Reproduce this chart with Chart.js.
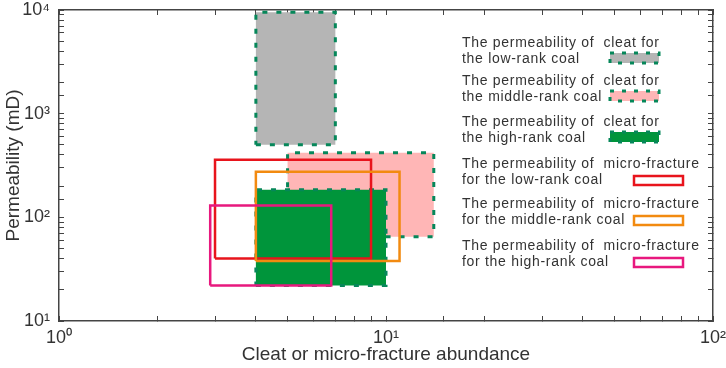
<!DOCTYPE html>
<html>
<head>
<meta charset="utf-8">
<script src="https://cdn.jsdelivr.net/npm/chart.js@4.4.0/dist/chart.umd.min.js"></script>
<style>
  html, body { margin: 0; padding: 0; background: #fff; }
  #wrap { width: 726px; height: 368px; }
</style>
</head>
<body>
<div id="wrap"><canvas id="grafico" width="726" height="368"></canvas></div>
<script>
/* Rangos de permeabilidad vs abundancia (escala log-log) */

// Datos
const seriesNames = [
  'Cleat, low-rank coal',
  'Cleat, middle-rank coal',
  'Cleat, high-rank coal',
  'Micro-fracture, low-rank coal',
  'Micro-fracture, middle-rank coal',
  'Micro-fracture, high-rank coal',
];
const xLow  = [4, 5, 4, 3, 4, 2.9];
const xHigh = [7, 14, 10, 9, 11, 6.8];
const yLow  = [500, 65, 22, 40, 38, 22];
const yHigh = [9500, 420, 185, 360, 275, 130];

const xTickValues = [1, 10, 100];
const xTickLabels = ['10⁰', '10¹', '10²'];
const yTickValues = [10, 100, 1000, 10000];
const yTickLabels = ['10¹', '10²', '10³', '10⁴'];

const legendLine1 = [
  'The permeability of  cleat for',
  'The permeability of  cleat for',
  'The permeability of  cleat for',
  'The permeability of  micro-fracture',
  'The permeability of  micro-fracture',
  'The permeability of  micro-fracture',
];
const legendLine2 = [
  'the low-rank coal',
  'the middle-rank coal',
  'the high-rank coal',
  'for the low-rank coal',
  'for the middle-rank coal',
  'for the high-rank coal',
];

// Estilos de cada rectángulo
const VERDE_BORDE = '#06875a';
const estilos = [
  { relleno: '#b5b5b5', borde: VERDE_BORDE, dash: [5, 9], ancho: 3 },
  { relleno: '#ffb6b6', borde: VERDE_BORDE, dash: [5, 9], ancho: 3 },
  { relleno: '#00953b', borde: VERDE_BORDE, dash: [5, 9], ancho: 3 },
  { relleno: null, borde: '#e8141c', dash: [], ancho: 2.5 },
  { relleno: null, borde: '#f28a10', dash: [], ancho: 2.5 },
  { relleno: null, borde: '#e8187e', dash: [], ancho: 2.5 },
];

const FUENTE = "'Liberation Sans', Arial, sans-serif";
const COLOR_EJE = '#444';
const COLOR_TEXTO = '#333';

function rectangulo(i) {
  return [
    { x: xLow[i], y: yLow[i] },
    { x: xHigh[i], y: yLow[i] },
    { x: xHigh[i], y: yHigh[i] },
    { x: xLow[i], y: yHigh[i] },
    { x: xLow[i], y: yLow[i] },
  ];
}

function etiqueta(valores, etiquetas) {
  return (v) => {
    const k = valores.findIndex(t => Math.abs(t - v) / t < 1e-6);
    return k >= 0 ? etiquetas[k] : '';
  };
}

// Tamaño fijo de cada eje, sin el relleno extra que Chart.js deja para las etiquetas
function fijarTamano(prop, valor) {
  return (s) => {
    s[prop] = valor;
    s.paddingTop = 0;
    s.paddingBottom = 0;
    s.paddingLeft = 0;
    s.paddingRight = 0;
  };
}

// Leyenda dibujada a mano (texto a la izquierda, muestra a la derecha)
const leyendaPlugin = {
  id: 'leyendaPropia',
  afterDraw(chart) {
    const ctx = chart.ctx;
    ctx.save();
    ctx.font = `14px ${FUENTE}`;
    ctx.letterSpacing = '0.7px';
    ctx.textBaseline = 'alphabetic';
    ctx.textAlign = 'left';
    const baseY = [47, 85, 126, 168, 208, 250];
    seriesNames.forEach((_, i) => {
      const y1 = baseY[i];
      const y2 = y1 + 16;
      ctx.fillStyle = COLOR_TEXTO;
      ctx.fillText(legendLine1[i], 462, y1);
      ctx.fillText(legendLine2[i], 462, y2);

      const e = estilos[i];
      const sx = e.relleno ? 610 : 634;
      const sy = e.relleno ? y2 - 10 : y2 - 8;
      const sh = e.relleno ? 10 : 9;
      const sw = 49;
      if (e.relleno) {
        ctx.fillStyle = e.relleno;
        ctx.fillRect(sx, sy, sw, sh);
      }
      ctx.strokeStyle = e.borde;
      ctx.lineWidth = e.ancho;
      ctx.setLineDash(e.dash.length ? [4, 8] : []);
      ctx.strokeRect(sx, sy, sw, sh);
      ctx.setLineDash([]);
    });
    ctx.restore();
  },
};

const ejeLog = (pos, min, max, extra) => Object.assign({
  type: 'logarithmic',
  position: pos,
  min, max,
  border: { display: true, color: COLOR_EJE, width: 1.5 },
  grid: {
    drawOnChartArea: false,
    drawTicks: true,
    tickLength: -5,
    tickColor: COLOR_EJE,
    tickWidth: 1,
  },
}, extra);

const ctx = document.getElementById('grafico').getContext('2d');

new Chart(ctx, {
  type: 'line',
  data: {
    datasets: seriesNames.map((nombre, i) => ({
      label: nombre,
      data: rectangulo(i),
      borderColor: estilos[i].borde,
      borderWidth: estilos[i].ancho,
      borderDash: estilos[i].dash,
      borderJoinStyle: 'miter',
      backgroundColor: estilos[i].relleno || 'transparent',
      fill: estilos[i].relleno ? 'shape' : false,
      pointRadius: 0,
      pointHoverRadius: 0,
      tension: 0,
      order: seriesNames.length - i,
    })),
  },
  options: {
    responsive: false,
    animation: false,
    layout: { padding: 0 },
    plugins: {
      legend: { display: false },
      tooltip: { enabled: false },
    },
    scales: {
      x: ejeLog('bottom', 1, 100, {
        afterFit: fijarTamano('height', 47),
        ticks: {
          autoSkip: false, maxRotation: 0, minRotation: 0,
          padding: 11,
          color: COLOR_TEXTO,
          font: { family: FUENTE, size: 18 },
          callback: etiqueta(xTickValues, xTickLabels),
        },
        title: {
          display: true,
          text: 'Cleat or micro-fracture abundance',
          color: COLOR_TEXTO,
          font: { family: FUENTE, size: 19 },
          padding: { top: 0, bottom: 2 },
        },
      }),
      y: ejeLog('left', 10, 10000, {
        afterFit: fijarTamano('width', 59),
        ticks: {
          autoSkip: false,
          padding: 14,
          color: COLOR_TEXTO,
          font: { family: FUENTE, size: 18 },
          callback: etiqueta(yTickValues, yTickLabels),
        },
        title: {
          display: true,
          text: 'Permeability (mD)',
          color: COLOR_TEXTO,
          font: { family: FUENTE, size: 19 },
          padding: { top: 2, bottom: 0 },
        },
      }),
      x2: ejeLog('top', 1, 100, {
        afterFit: fijarTamano('height', 10),
        ticks: { display: false, autoSkip: false },
      }),
      y2: ejeLog('right', 10, 10000, {
        afterFit: fijarTamano('width', 13),
        ticks: { display: false, autoSkip: false },
      }),
    },
  },
  plugins: [leyendaPlugin],
});
</script>
</body>
</html>
